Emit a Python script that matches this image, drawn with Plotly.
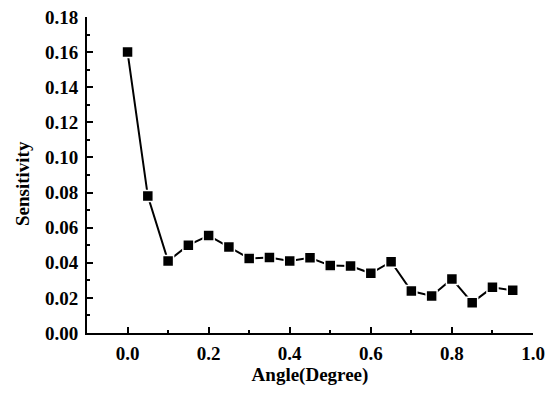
import plotly.graph_objects as go

angle = [0.0, 0.05, 0.10, 0.15, 0.20, 0.25, 0.30, 0.35, 0.40, 0.45,
         0.50, 0.55, 0.60, 0.65, 0.70, 0.75, 0.80, 0.85, 0.90, 0.95]
sensitivity = [0.160, 0.078, 0.041, 0.050, 0.0555, 0.049, 0.0425, 0.043, 0.041, 0.0428,
               0.0384, 0.0382, 0.034, 0.0406, 0.0239, 0.0211, 0.0308, 0.0173, 0.026, 0.0243]

font_family = "Liberation Serif"

fig = go.Figure()
fig.add_trace(go.Scatter(
    x=angle, y=sensitivity, mode="lines+markers",
    line=dict(color="black", width=2),
    marker=dict(symbol="square", size=11, color="black",
                line=dict(color="white", width=1.5)),
    showlegend=False,
))

axis_common = dict(
    showline=True, linecolor="black", linewidth=2,
    ticks="inside", ticklen=6, tickwidth=1.5, tickcolor="black",
    showgrid=False, zeroline=False, mirror=False, automargin=False,
    ticklabeloverflow="allow",
    tickfont=dict(family=font_family, size=19, color="black", weight="bold"),
)

fig.update_xaxes(
    range=[-0.1, 1.0], tickvals=[0.0, 0.2, 0.4, 0.6, 0.8, 1.0],
    ticktext=["0.0", "0.2", "0.4", "0.6", "0.8", "1.0"],
    minor=dict(tickvals=[-0.1, 0.1, 0.3, 0.5, 0.7, 0.9], ticks="inside", ticklen=3,
               tickcolor="black", tickwidth=1.5),
    title=dict(text="Angle(Degree)", standoff=1,
               font=dict(family=font_family, size=19, color="black", weight="bold")),
    ticklabelstandoff=2,
    **axis_common,
)
fig.update_yaxes(
    range=[0, 0.18], tickvals=[0.00, 0.02, 0.04, 0.06, 0.08, 0.10, 0.12, 0.14, 0.16, 0.18],
    ticktext=["0.00", "0.02", "0.04", "0.06", "0.08", "0.10", "0.12", "0.14", "0.16", "0.18"],
    minor=dict(tickvals=[0.01, 0.03, 0.05, 0.07, 0.09, 0.11, 0.13, 0.15, 0.17], ticks="inside",
               ticklen=3, tickcolor="black", tickwidth=1.5),
    ticklabelstandoff=3,
    **axis_common,
)

fig.add_annotation(
    text="Sensitivity", textangle=-90, showarrow=False,
    xref="paper", yref="paper", x=0, y=0.5, xanchor="center", yanchor="middle",
    xshift=-65, yshift=-9,
    font=dict(family=font_family, size=19, color="black", weight="bold"),
)

fig.update_layout(
    width=547, height=388,
    margin=dict(l=79, r=22, t=9, b=63),
    paper_bgcolor="white", plot_bgcolor="white",
)

fig.write_html("out.html")
